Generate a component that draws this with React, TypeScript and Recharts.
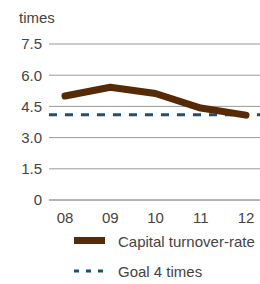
import { LineChart, Line, XAxis, YAxis, CartesianGrid, ReferenceLine } from 'recharts'

const years = ['08', '09', '10', '11', '12']
const turnover = [5.0, 5.42, 5.12, 4.42, 4.08]
const goal = 4.1
const yTicks = [0, 1.5, 3, 4.5, 6, 7.5]

const data = years.map((year, i) => ({ year, turnover: turnover[i] }))

const BROWN = '#562a06'
const BLUE = '#1d4f7c'
const TEXT = '#444'
const FONT = '"Liberation Sans", Arial, sans-serif'

function ChartLegend() {
  return (
    <div style={{ position: 'absolute', left: 74, top: 226, fontFamily: FONT, fontSize: 15, color: TEXT }}>
      <div style={{ display: 'flex', alignItems: 'center', height: 30 }}>
        <svg width={44} height={10}>
          <rect x={0} y={1} width={31} height={7} fill={BROWN} />
        </svg>
        <span>Capital turnover-rate</span>
      </div>
      <div style={{ display: 'flex', alignItems: 'center', height: 30 }}>
        <svg width={44} height={10}>
          <line x1={0} y1={5} x2={31} y2={5} stroke={BLUE} strokeWidth={3} strokeDasharray="5 7" />
        </svg>
        <span>Goal 4 times</span>
      </div>
    </div>
  )
}

export default function App() {
  return (
    <div style={{ position: 'absolute', left: 0, top: 0, width: 260, height: 284, background: '#fff' }}>
      <div style={{ position: 'absolute', left: 19, top: 9, fontFamily: FONT, fontSize: 15, color: TEXT }}>times</div>
      <LineChart width={260} height={284} data={data} margin={{ top: 44, right: 0, bottom: 54, left: 0 }}>
        <CartesianGrid vertical={false} stroke="#9a9a9a" />
        <XAxis
          dataKey="year"
          type="category"
          padding={{ left: 16, right: 14 }}
          axisLine={{ stroke: '#9a9a9a' }}
          tickLine={false}
          tickMargin={6}
          tick={{ fill: TEXT, fontSize: 15, fontFamily: FONT }}
          interval={0}
          height={30}
          scale="point"
        />
        <YAxis
          domain={[0, 7.5]}
          ticks={yTicks}
          interval={0}
          tickFormatter={(v: number) => (v === 0 ? '0' : v.toFixed(1))}
          axisLine={false}
          tickLine={false}
          tickSize={0}
          tickMargin={7}
          width={49}
          tick={{ fill: TEXT, fontSize: 15, fontFamily: FONT }}
        />
        <ReferenceLine y={goal} stroke={BLUE} strokeWidth={3} strokeDasharray="8 8" />
        <Line
          type="linear"
          dataKey="turnover"
          stroke={BROWN}
          strokeWidth={7}
          strokeLinecap="round"
          strokeLinejoin="round"
          dot={false}
          activeDot={false}
          isAnimationActive={false}
        />
      </LineChart>
      <ChartLegend />
    </div>
  )
}
